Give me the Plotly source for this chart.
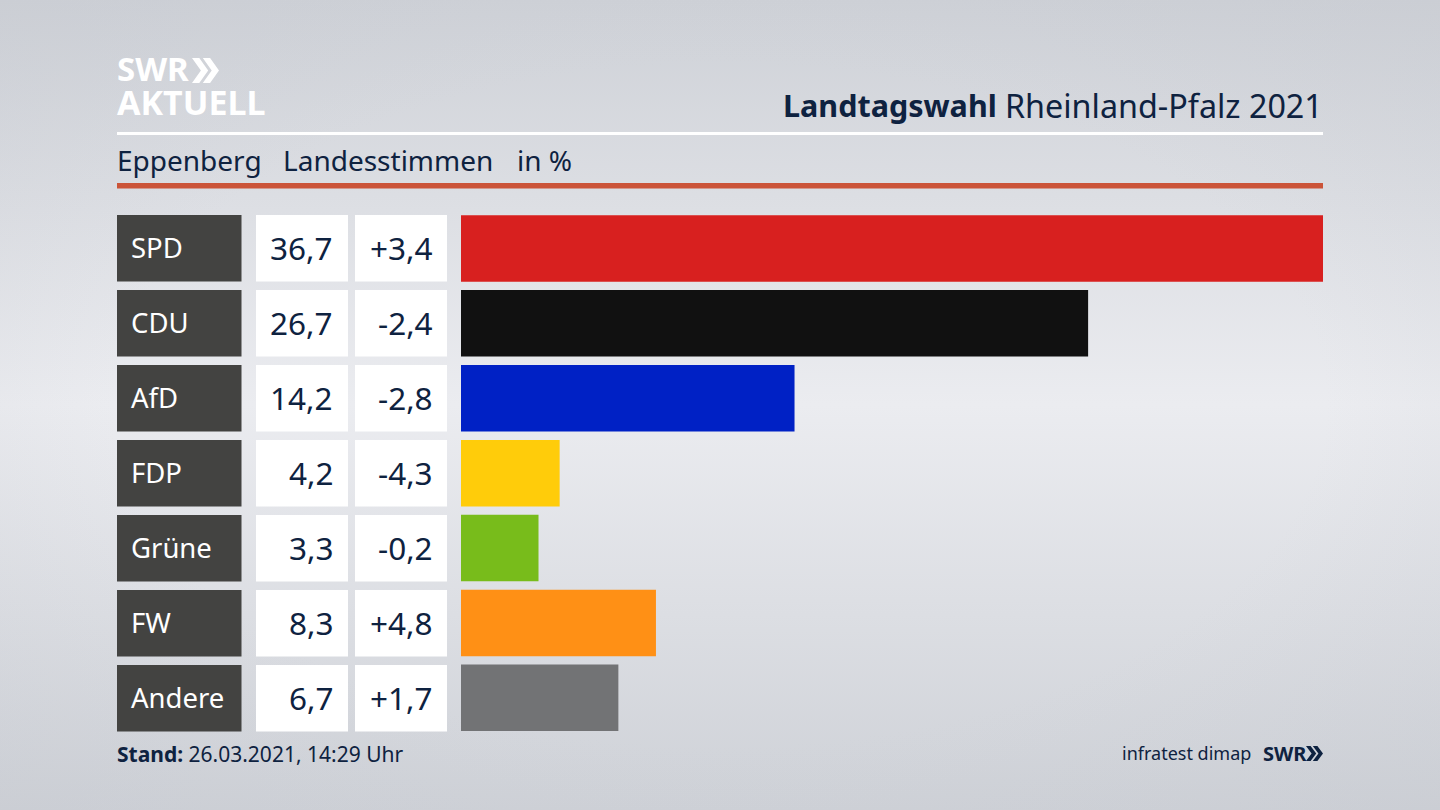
import base64
import plotly.graph_objects as go

parties = ["SPD", "CDU", "AfD", "FDP", "Grüne", "FW", "Andere"]
votes = [36.7, 26.7, 14.2, 4.2, 3.3, 8.3, 6.7]
changes = [3.4, -2.4, -2.8, -4.3, -0.2, 4.8, 1.7]
colors = ["#d8201f", "#111111", "#0021c5", "#ffcc0a", "#78bc1b", "#ff9015", "#727375"]

W, H = 1440, 810
NAVY = "#0e2240"
FONT = "Noto Sans"
ROW_TOPS = [215, 290, 365, 440, 515, 590, 665]
ROW_H = 66.5
PITCH = 74.9


def px(x):
    return x / W


def py(y):
    return 1 - y / H


def fmt(v, sign=False):
    s = f"{v:+.1f}" if sign else f"{v:.1f}"
    return s.replace(".", ",")


def label(x, y, text, size, color=NAVY, anchor="left"):
    # annotations carry 2px of padding, take it off again
    x = x - 2 if anchor == "left" else x + 2
    fig.add_annotation(x=px(x), y=py(y), xref="paper", yref="paper", text=text, showarrow=False,
                       xanchor=anchor, yanchor="middle", align=anchor,
                       font=dict(family=FONT, size=size, color=color))


def box(x0, x1, y0, y1, color):
    fig.add_shape(type="rect", xref="paper", yref="paper", x0=px(x0), x1=px(x1), y0=py(y0), y1=py(y1),
                  fillcolor=color, line_width=0, layer="below")


def chevrons(x0, x1, y0, y1, color):
    # the two arrow heads of the SWR logo
    w = (x1 - x0) * 0.6
    t = w * 0.45
    ym = (y0 + y1) / 2
    for off in [0, x1 - x0 - w]:
        a = x0 + off
        pts = [(a, y0), (a + t, y0), (a + w, ym), (a + t, y1), (a, y1), (a + w - t, ym)]
        path = "M " + " L ".join(f"{px(p[0]):.5f},{py(p[1]):.5f}" for p in pts) + " Z"
        fig.add_shape(type="path", xref="paper", yref="paper", path=path, fillcolor=color, line_width=0)


fig = go.Figure(go.Bar(x=votes, y=parties, orientation="h", marker=dict(color=colors, line_width=0),
                       width=ROW_H / PITCH, hoverinfo="skip"))

fig.update_layout(
    width=W, height=H, autosize=False, margin=dict(l=0, r=0, t=0, b=0),
    paper_bgcolor="#dcdee3", plot_bgcolor="rgba(0,0,0,0)", showlegend=False,
    xaxis=dict(domain=[px(461), px(1323)], range=[0, 36.7], visible=False),
    yaxis=dict(domain=[py(211 + 7 * PITCH), py(211)], autorange="reversed", visible=False),
)

# background: light band through the middle, darker to the top and bottom
svg = f"""<svg xmlns="http://www.w3.org/2000/svg" width="{W}" height="{H}">
<defs><linearGradient id="a" x1="0" y1="0" x2="0" y2="1">
<stop offset="0" stop-color="#ced1d7"/><stop offset="0.5" stop-color="#ebecf0"/><stop offset="1" stop-color="#ced1d7"/>
</linearGradient>
<radialGradient id="b" cx="0.5" cy="0.5" r="0.7">
<stop offset="0.6" stop-color="#c4c7ce" stop-opacity="0"/><stop offset="1" stop-color="#c4c7ce" stop-opacity="0.3"/>
</radialGradient></defs>
<rect width="{W}" height="{H}" fill="url(#a)"/><rect width="{W}" height="{H}" fill="url(#b)"/></svg>"""
fig.add_layout_image(source="data:image/svg+xml;base64," + base64.b64encode(svg.encode()).decode(),
                     xref="paper", yref="paper", x=0, y=1, sizex=1, sizey=1,
                     xanchor="left", yanchor="top", sizing="stretch", layer="below")

# header
label(117, 69, "<b>SWR</b>", 33, "white")
chevrons(192, 219, 58, 83, "white")
label(117, 102, "<b>AKTUELL</b>", 34, "white")
label(997, 105, "<b>Landtagswahl</b>", 30.5, anchor="right")
label(1323, 105, "Rheinland-Pfalz 2021", 32.3, anchor="right")
box(117, 1323, 132, 135, "white")
label(117, 160, "Eppenberg", 28)
label(283, 160, "Landesstimmen", 28)
label(517, 160, "in %", 28)
box(117, 1323, 183, 188.5, "#cb5439")

# table cells left of the bars
for i, top in enumerate(ROW_TOPS):
    mid = top + ROW_H / 2
    box(117, 241.5, top, top + ROW_H, "#434341")
    box(256, 348, top, top + ROW_H, "white")
    box(355, 447, top, top + ROW_H, "white")
    label(131, mid - 1, parties[i], 27.5, "white")
    label(333, mid - 1, fmt(votes[i]), 31.5, anchor="right")
    label(433, mid - 1, fmt(changes[i], sign=True), 31.5, anchor="right")

# footer
label(117, 754, "<b>Stand:</b> 26.03.2021, 14:29 Uhr", 21)
label(1251, 753, "infratest dimap", 18, anchor="right")
label(1263, 753, "<b>SWR</b>", 20)
chevrons(1306, 1323, 746, 761, NAVY)

fig.write_html("out.html", config=dict(displayModeBar=False), post_script="document.body.style.margin='0';")
